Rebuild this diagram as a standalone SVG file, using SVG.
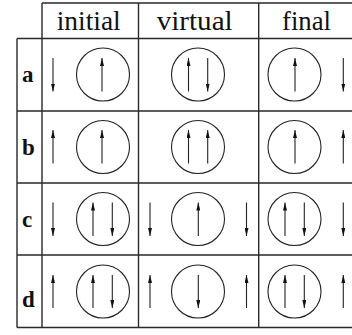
<svg xmlns="http://www.w3.org/2000/svg" width="352" height="335" viewBox="0 0 352 335">
<defs>
<marker id="ah" markerUnits="userSpaceOnUse" viewBox="0 0 8 4" refX="8" refY="2" markerWidth="8" markerHeight="4" orient="auto">
<path d="M0,0 L8,2 L0,4 z" fill="#111"/>
</marker>
</defs>
<style>
.grid{stroke:#2a2a2a;stroke-width:1.4;fill:none}
.c{fill:none;stroke:#222;stroke-width:1.1}
.a{stroke:#222;stroke-width:1.1;marker-end:url(#ah)}
.h{font-family:"Liberation Serif",serif;font-size:27px;fill:#111}
.l{font-family:"Liberation Serif",serif;font-size:23px;font-weight:bold;fill:#111}
</style>
<g id="grid" class="grid">
<path d="M42,3 H352 M17,38.5 H352 M17,111 H352 M17,183 H352 M17,255 H352 M17,327.5 H352"/>
<path d="M17,38.5 V327.5 M42,3 V327.5 M138.5,3 V327.5 M258.7,3 V327.5"/>
</g>
<g id="header">
<text class="h" x="56.7" y="30" textLength="64" lengthAdjust="spacingAndGlyphs">initial</text>
<text class="h" x="156.7" y="30" textLength="76" lengthAdjust="spacingAndGlyphs">virtual</text>
<text class="h" x="282" y="30" textLength="49" lengthAdjust="spacingAndGlyphs">final</text>
</g>
<g id="labels">
<text class="l" x="22" y="82">a</text>
<text class="l" x="22" y="155">b</text>
<text class="l" x="22" y="227">c</text>
<text class="l" x="22" y="307">d</text>
</g>
<g id="row-a">
<g id="a-initial">
<line class="a" x1="53" y1="58" x2="53" y2="91.5"/>
<circle class="c" cx="103" cy="74.5" r="26.5"/>
<line class="a" x1="102" y1="91.5" x2="102" y2="58"/>
</g>
<g id="a-virtual">
<circle class="c" cx="198" cy="74.5" r="26.5"/>
<line class="a" x1="188.5" y1="91.5" x2="188.5" y2="58"/>
<line class="a" x1="207.7" y1="58" x2="207.7" y2="91.5"/>
</g>
<g id="a-final">
<circle class="c" cx="294.5" cy="74.5" r="26.5"/>
<line class="a" x1="295" y1="91.5" x2="295" y2="58"/>
<line class="a" x1="343.3" y1="58" x2="343.3" y2="91.5"/>
</g>
</g>
<g id="row-b">
<g id="b-initial">
<line class="a" x1="53" y1="163.5" x2="53" y2="130"/>
<circle class="c" cx="103" cy="147" r="26.5"/>
<line class="a" x1="102" y1="163.5" x2="102" y2="130"/>
</g>
<g id="b-virtual">
<circle class="c" cx="198" cy="147" r="26.5"/>
<line class="a" x1="188.5" y1="163.5" x2="188.5" y2="130"/>
<line class="a" x1="207.7" y1="163.5" x2="207.7" y2="130"/>
</g>
<g id="b-final">
<circle class="c" cx="294.5" cy="147" r="26.5"/>
<line class="a" x1="295" y1="163.5" x2="295" y2="130"/>
<line class="a" x1="343.3" y1="163.5" x2="343.3" y2="130"/>
</g>
</g>
<g id="row-c">
<g id="c-initial">
<line class="a" x1="53" y1="202.5" x2="53" y2="236"/>
<circle class="c" cx="103" cy="219" r="26.5"/>
<line class="a" x1="93" y1="236" x2="93" y2="202.5"/>
<line class="a" x1="112.3" y1="202.5" x2="112.3" y2="236"/>
</g>
<g id="c-virtual">
<line class="a" x1="150" y1="202.5" x2="150" y2="236"/>
<circle class="c" cx="198" cy="219" r="26.5"/>
<line class="a" x1="198.3" y1="236" x2="198.3" y2="202.5"/>
<line class="a" x1="246.5" y1="202.5" x2="246.5" y2="236"/>
</g>
<g id="c-final">
<circle class="c" cx="294.5" cy="219" r="26.5"/>
<line class="a" x1="285" y1="236" x2="285" y2="202.5"/>
<line class="a" x1="304.3" y1="202.5" x2="304.3" y2="236"/>
<line class="a" x1="343.3" y1="202.5" x2="343.3" y2="236"/>
</g>
</g>
<g id="row-d">
<g id="d-initial">
<line class="a" x1="53" y1="308" x2="53" y2="275"/>
<circle class="c" cx="103" cy="291.5" r="26.5"/>
<line class="a" x1="93" y1="308" x2="93" y2="275"/>
<line class="a" x1="112.3" y1="275" x2="112.3" y2="308"/>
</g>
<g id="d-virtual">
<line class="a" x1="150" y1="308" x2="150" y2="275"/>
<circle class="c" cx="198" cy="291.5" r="26.5"/>
<line class="a" x1="198.3" y1="275" x2="198.3" y2="308"/>
<line class="a" x1="246.5" y1="308" x2="246.5" y2="275"/>
</g>
<g id="d-final">
<circle class="c" cx="294.5" cy="291.5" r="26.5"/>
<line class="a" x1="285" y1="308" x2="285" y2="275"/>
<line class="a" x1="304.3" y1="275" x2="304.3" y2="308"/>
<line class="a" x1="343.3" y1="308" x2="343.3" y2="275"/>
</g>
</g>
</svg>
